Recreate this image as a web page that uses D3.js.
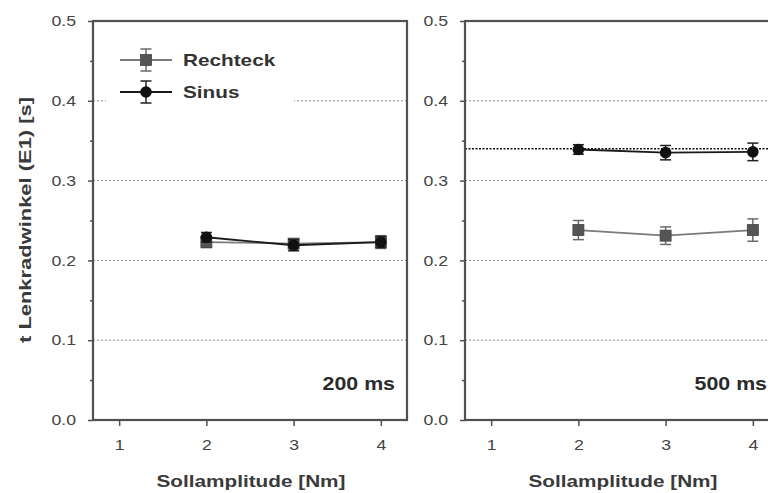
<!DOCTYPE html>
<html>
<head>
<meta charset="utf-8">
<script src="https://cdn.jsdelivr.net/npm/d3@7"></script>
<style>
  body { margin: 0; background: #fff; }
  svg { display: block; font-family: "Liberation Sans", Arial, sans-serif; }
</style>
</head>
<body>
<div id="chart"></div>
<script>
// values
const amplitudes = [2, 3, 4];
const xTicks = [1, 2, 3, 4];
const yTicks = [0, 0.1, 0.2, 0.3, 0.4, 0.5];
const yMinor = [0.05, 0.15, 0.25, 0.35, 0.45];
const gridValues = [0.1, 0.2, 0.3, 0.4];
const panelLabels = ["200 ms", "500 ms"];

const rechteck200 = [0.223, 0.221, 0.223];
const rechteck200Err = [0.007, 0.006, 0.008];
const sinus200 = [0.229, 0.219, 0.223];
const sinus200Err = [0.006, 0.007, 0.007];

const rechteck500 = [0.238, 0.231, 0.238];
const rechteck500Err = [0.012, 0.011, 0.014];
const sinus500 = [0.339, 0.335, 0.336];
const sinus500Err = [0.006, 0.009, 0.011];

const refLine500 = 0.34;

const width = 768, height = 493;
const axisColor = "#505050";
const textColor = "#3a3a3a";
const stretch = 1.22; // reference text is a bit wider than plain Arial

const svg = d3.select("#chart").append("svg")
    .attr("width", width)
    .attr("height", height);

const y = d3.scaleLinear().domain([0, 0.5]).range([420, 21]);

const panels = [
  { left: 93, label: panelLabels[0], series: [
      { name: "Rechteck", values: rechteck200, err: rechteck200Err },
      { name: "Sinus", values: sinus200, err: sinus200Err } ] },
  { left: 465, label: panelLabels[1], ref: refLine500, series: [
      { name: "Rechteck", values: rechteck500, err: rechteck500Err },
      { name: "Sinus", values: sinus500, err: sinus500Err } ] }
];

const style = {
  Rechteck: { line: "#7a7a7a", mark: "#555", err: "#6a6a6a" },
  Sinus: { line: "#1a1a1a", mark: "#111", err: "#222" }
};

function drawMarker(g, name, cx, cy) {
  if (name === "Rechteck") {
    g.append("rect")
      .attr("x", cx - 5.5).attr("y", cy - 5.5)
      .attr("width", 11).attr("height", 11)
      .attr("fill", style.Rechteck.mark)
      .attr("stroke", "#444").attr("stroke-width", 0.8);
  } else {
    g.append("circle")
      .attr("cx", cx).attr("cy", cy).attr("r", 5.8)
      .attr("fill", style.Sinus.mark);
  }
}

function drawErr(g, name, cx, y0, y1) {
  const c = style[name].err;
  g.append("line").attr("x1", cx).attr("x2", cx).attr("y1", y0).attr("y2", y1)
    .attr("stroke", c).attr("stroke-width", 1.5);
  [y0, y1].forEach(v => g.append("line")
    .attr("x1", cx - 5.5).attr("x2", cx + 5.5).attr("y1", v).attr("y2", v)
    .attr("stroke", c).attr("stroke-width", 1.5));
}

panels.forEach((p, pi) => {
  const x = d3.scaleLinear().domain([0.7, 4.3]).range([p.left, p.left + 314]);
  const g = svg.append("g");
  const [x0, x1] = x.range();

  // grid
  g.selectAll(".grid").data(gridValues).join("line")
    .attr("x1", x0).attr("x2", x1)
    .attr("y1", d => y(d)).attr("y2", d => y(d))
    .attr("stroke", "#8a8a8a").attr("stroke-width", 1)
    .attr("stroke-dasharray", "2,2");

  if (p.ref !== undefined) {
    g.append("line")
      .attr("x1", x0).attr("x2", x1)
      .attr("y1", y(p.ref)).attr("y2", y(p.ref))
      .attr("stroke", "#111").attr("stroke-width", 1.6)
      .attr("stroke-dasharray", "2,1.5");
  }

  // axes
  const yAxis = g.append("g").attr("transform", `translate(${x0},0)`)
    .call(d3.axisLeft(y).tickValues(yTicks).tickFormat(d3.format(".1f"))
      .tickSize(5).tickPadding(12));
  const yAxisMinor = g.append("g").attr("transform", `translate(${x0},0)`)
    .call(d3.axisLeft(y).tickValues(yMinor).tickFormat("").tickSize(3));
  const xAxis = g.append("g").attr("transform", `translate(0,${y(0)})`)
    .call(d3.axisBottom(x).tickValues(xTicks).tickFormat(d3.format("d"))
      .tickSize(6).tickPadding(14));
  [yAxis, yAxisMinor, xAxis].forEach(a => {
    a.select(".domain").remove();
    a.selectAll(".tick line").attr("stroke", axisColor).attr("stroke-width", 1.5);
    a.selectAll(".tick text").attr("fill", "#444")
      .style("font-size", "14.5px").attr("class", "st");
  });

  // frame
  g.append("rect")
    .attr("x", x0).attr("y", y(0.5))
    .attr("width", x1 - x0).attr("height", y(0) - y(0.5))
    .attr("fill", "none").attr("stroke", axisColor).attr("stroke-width", 2.2);

  // series
  const lineGen = d3.line().x((d, i) => x(amplitudes[i])).y(d => y(d));
  p.series.forEach(s => {
    g.append("path").datum(s.values)
      .attr("d", lineGen)
      .attr("fill", "none")
      .attr("stroke", style[s.name].line)
      .attr("stroke-width", 1.8);
  });
  p.series.forEach(s => {
    s.values.forEach((v, i) => {
      drawErr(g, s.name, x(amplitudes[i]), y(v - s.err[i]), y(v + s.err[i]));
      drawMarker(g, s.name, x(amplitudes[i]), y(v));
    });
  });

  // panel label
  g.append("text").attr("class", "st")
    .attr("x", x1 - 12).attr("y", 390)
    .attr("text-anchor", "end")
    .attr("font-weight", "bold").style("font-size", "17.5px")
    .attr("fill", "#2a2a2a")
    .text(p.label);

  // x title
  g.append("text").attr("class", "st")
    .attr("x", (x(1) + x(4)) / 2 + 1).attr("y", 487)
    .attr("text-anchor", "middle")
    .attr("font-weight", "bold").style("font-size", "17px")
    .attr("fill", textColor)
    .text("Sollamplitude [Nm]");
});

// y title
svg.append("text")
  .attr("transform", "translate(31,220) rotate(-90)")
  .attr("text-anchor", "middle")
  .attr("font-weight", "bold").style("font-size", "16.5px")
  .attr("fill", textColor)
  .attr("textLength", 246).attr("lengthAdjust", "spacingAndGlyphs")
  .text("t Lenkradwinkel (E1) [s]");

// legend
const legend = svg.append("g");
legend.append("rect")
  .attr("x", 106).attr("y", 40).attr("width", 188).attr("height", 68)
  .attr("fill", "#fff");
const legendItems = [
  { name: "Rechteck", cy: 60 },
  { name: "Sinus", cy: 92 }
];
legendItems.forEach(it => {
  legend.append("line")
    .attr("x1", 120).attr("x2", 172).attr("y1", it.cy).attr("y2", it.cy)
    .attr("stroke", style[it.name].line).attr("stroke-width", 1.8);
  drawErr(legend, it.name, 146, it.cy - 11, it.cy + 11);
  drawMarker(legend, it.name, 146, it.cy);
  legend.append("text").attr("class", "st")
    .attr("x", 183).attr("y", it.cy + 6)
    .attr("font-weight", "bold").style("font-size", "17px")
    .attr("fill", "#333")
    .text(it.name);
});

// widen horizontal texts to match the reference
svg.selectAll("text.st").each(function () {
  const w = this.getComputedTextLength();
  d3.select(this).attr("textLength", w * stretch)
    .attr("lengthAdjust", "spacingAndGlyphs");
});
</script>
</body>
</html>
